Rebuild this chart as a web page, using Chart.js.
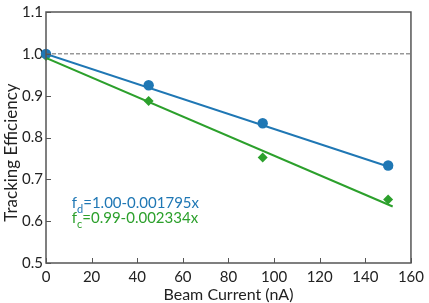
<!DOCTYPE html>
<html>
<head>
<meta charset="utf-8">
<script src="https://cdn.jsdelivr.net/npm/chart.js@4"></script>
<style>
  html, body { margin: 0; padding: 0; background: #fff; }
  #wrap { width: 429px; height: 303px; position: relative; }
</style>
</head>
<body>
<div id="wrap"><canvas id="chart"></canvas></div>
<script>
// measured points
const currents = [0, 45, 95, 150];
const effD = [1.000, 0.925, 0.834, 0.733];
const effC = [0.995, 0.887, 0.752, 0.652];

// fit lines, endpoints
const fitX = [0, 152];
const fitD = [1.000, 0.727];
const fitC = [0.990, 0.635];

// reference line at 1
const refX = [0, 160];
const refY = [1, 1];

const labelD = ['f', 'd', '=1.00-0.001795x'];
const labelC = ['f', 'c', '=0.99-0.002334x'];
const yTitle = 'Tracking Efficiency';

const blue = '#1f77b4';
const green = '#2ca02c';
const axisColor = '#555';
const font = 'Lato, "Open Sans", sans-serif';

function pts(xs, ys){ return xs.map((x, i) => ({x: x, y: ys[i]})); }

// box + inward ticks + fit text + y title (sits a bit below axis centre)
const frame = {
    id: 'frame',
    afterDraw(chart){
        const ctx = chart.ctx;
        const a = chart.chartArea;
        const xs = chart.scales.x, ys = chart.scales.y;
        ctx.save();
        ctx.strokeStyle = axisColor;
        ctx.lineWidth = 1.5;
        ctx.strokeRect(a.left, a.top, a.right - a.left, a.bottom - a.top);
        ctx.lineWidth = 1;
        ctx.beginPath();
        xs.ticks.forEach(t => {
            const px = Math.round(xs.getPixelForValue(t.value)) + 0.5;
            ctx.moveTo(px, a.bottom); ctx.lineTo(px, a.bottom - 5);
        });
        ys.ticks.forEach(t => {
            const py = Math.round(ys.getPixelForValue(t.value)) + 0.5;
            ctx.moveTo(a.left, py); ctx.lineTo(a.left + 5, py);
        });
        ctx.stroke();

        function eq(parts, x, y, color){
            let px = xs.getPixelForValue(x);
            const py = ys.getPixelForValue(y);
            ctx.fillStyle = color;
            ctx.textBaseline = 'alphabetic';
            ctx.textAlign = 'left';
            ctx.font = '15px ' + font;
            ctx.fillText(parts[0], px, py);
            px += ctx.measureText(parts[0]).width;
            ctx.font = '11px ' + font;
            ctx.fillText(parts[1], px, py + 5);
            px += ctx.measureText(parts[1]).width;
            ctx.font = '15px ' + font;
            ctx.fillText(parts[2], px, py);
        }
        eq(labelD, 11.3, 0.631, blue);
        eq(labelC, 11.3, 0.595, green);

        ctx.translate(12, (a.top + a.bottom) / 2 + 15);
        ctx.rotate(-Math.PI / 2);
        ctx.fillStyle = '#222';
        ctx.font = '17px ' + font;
        ctx.textAlign = 'center';
        ctx.textBaseline = 'middle';
        ctx.fillText(yTitle, 0, 0);
        ctx.restore();
    }
};

new Chart(document.getElementById('chart'), {
    type: 'scatter',
    data: {
        datasets: [
            { data: pts(refX, refY), showLine: true, borderColor: '#666', borderWidth: 1, borderDash: [4, 2], pointRadius: 0 },
            { data: pts(fitX, fitD), showLine: true, borderColor: blue, borderWidth: 2, pointRadius: 0 },
            { data: pts(fitX, fitC), showLine: true, borderColor: green, borderWidth: 2, pointRadius: 0 },
            { data: pts(currents, effD), pointStyle: 'circle', pointRadius: 5.2, backgroundColor: blue, borderColor: blue, borderWidth: 0, clip: false },
            { data: pts(currents, effC), pointStyle: 'rectRot', pointRadius: 5, backgroundColor: green, borderColor: green, borderWidth: 0, clip: false }
        ]
    },
    options: {
        responsive: true,
        maintainAspectRatio: false,
        animation: false,
        events: [],
        layout: { padding: { top: 11, right: 16, left: 0, bottom: 0 } },
        plugins: { legend: { display: false }, tooltip: { enabled: false } },
        scales: {
            x: {
                type: 'linear', min: 0, max: 160,
                grid: { display: false, drawTicks: false },
                border: { display: false },
                ticks: { stepSize: 20, color: '#222', font: { family: font, size: 15 }, padding: 5, maxRotation: 0 },
                title: { display: true, text: 'Beam Current (nA)', color: '#222', font: { family: font, size: 16, lineHeight: 1 }, padding: { top: 0, bottom: 0 } },
                afterFit(s){ s.height = 40; }
            },
            y: {
                type: 'linear', min: 0.5, max: 1.1,
                grid: { display: false, drawTicks: false },
                border: { display: false },
                ticks: { stepSize: 0.1, color: '#222', font: { family: font, size: 15 }, padding: 3,
                    callback: v => v.toFixed(1) },
                title: { display: false },
                afterFit(s){ s.width = 46; }
            }
        }
    },
    plugins: [frame]
});
</script>
</body>
</html>
